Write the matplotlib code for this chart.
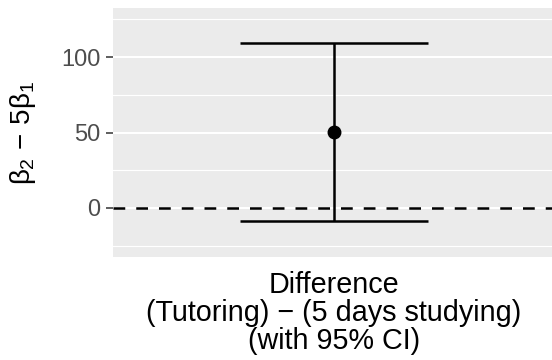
import matplotlib
matplotlib.use("Agg")
import matplotlib.pyplot as plt

plt.rcParams["font.family"] = ["Liberation Sans", "DejaVu Sans"]
plt.rcParams["mathtext.fontset"] = "custom"
plt.rcParams["mathtext.rm"] = "Liberation Sans"
plt.rcParams["mathtext.it"] = "Liberation Sans"

# contrast estimate and its 95% interval
labels = ["Difference\n(Tutoring) \u2212 (5 days studying)\n(with 95% CI)"]
estimate = [50.3]
ci_low = [-8.6]
ci_high = [109.2]

yticks = [0, 50, 100]
yminor = [-25, 25, 75, 125]

fig = plt.figure(figsize=(5.52, 3.6), dpi=100)
ax = fig.add_axes([113 / 552, 103 / 360, 442 / 552, 249 / 360])
ax.set_facecolor("#EBEBEB")
for s in ax.spines.values():
    s.set_visible(False)

xpos = list(range(1, len(labels) + 1))
ax.set_xlim(0.4, len(labels) + 0.6)
ax.set_ylim(-32.5, 132.5)

# ggplot-style grid: thin minor lines between the major ones
for y in yminor:
    ax.axhline(y, color="white", lw=0.8, zorder=0)
for y in yticks:
    ax.axhline(y, color="white", lw=1.5, zorder=0)

ax.axhline(0, color="black", lw=1.8, dashes=(4.7, 4.4), zorder=2)

half = 0.255
ax.vlines(xpos, ci_low, ci_high, color="black", lw=1.8, zorder=3)
ax.hlines(ci_low, [x - half for x in xpos], [x + half for x in xpos], color="black", lw=1.8, zorder=3)
ax.hlines(ci_high, [x - half for x in xpos], [x + half for x in xpos], color="black", lw=1.8, zorder=3)
ax.plot(xpos, estimate, "o", color="black", ms=9, zorder=4)

ax.set_yticks(yticks)
ax.set_yticklabels([str(v) for v in yticks])
ax.tick_params(axis="y", length=5.2, width=1.1, color="#333333", labelcolor="#4D4D4D",
               labelsize=17, pad=4)
ax.set_xticks(xpos)
ax.set_xticklabels(labels, linespacing=1.0)
ax.tick_params(axis="x", length=0, labelcolor="black", labelsize=20.7, pad=10)

fig.text(23 / 552, 1 - 133.5 / 360, r"$\beta_2\,-\,5\beta_1$", fontsize=20,
         rotation=90, ha="center", va="center")

fig.savefig("out.png", dpi=100)
